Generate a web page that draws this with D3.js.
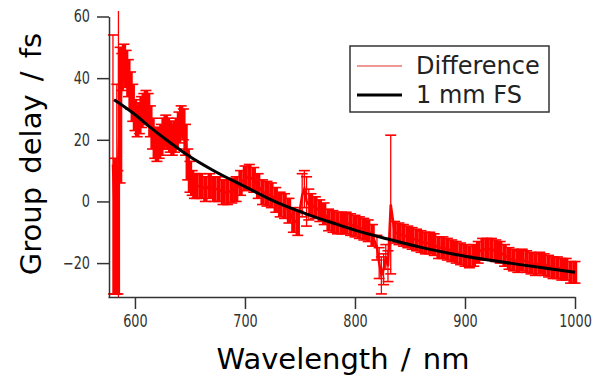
<!DOCTYPE html>
<html><head><meta charset="utf-8">
<script src="https://cdn.jsdelivr.net/npm/d3@7"></script>
<style>
html,body{margin:0;padding:0;background:#fff;}
svg{display:block;}
.tick text{font-family:"DejaVu Sans Condensed","DejaVu Sans",sans-serif;font-size:17px;fill:#333;}
</style>
</head><body>
<svg id="chart" width="594" height="383"></svg>
<script>
// Measured "Difference" data (nm, fs, error fs)
const diffWavelength = [580,582,583.5,584.5,585,586.5,588,590,592,594,596,598,600,602,604,606,608,610,612,614,616,618,620,622,624,626,628,630,632,634,636,638,640,642,644,646,648,650,652,654,656,660,664,668,672,676,680,684,688,692,696,700,704,708,712,716,720,724,728,732,736,740,744,748,752,754,756,758,760,764,768,772,776,780,784,788,792,796,800,804,808,812,816,820,822,824,826,828,830,832.5,836,840,844,848,852,856,860,864,868,872,876,880,884,888,892,896,900,904,908,912,916,920,924,928,932,936,940,944,948,952,956,960,964,968,972,976,980,984,988,992,996,1000];
const diffValue = [12,-8,4,-10,15,28,42,45,43,40,36,32,28,26,27,29,30,31,30,26,22,19,18,19,20,22,23,22,21,20,21,22,24,26,25,20,12,8,6,5,5,5,4,5,4,4,3,3,3.5,4,6,7.5,8,7,5,3,2.5,2,0.5,-1,-1.5,-3,-6,-7,2,4,0,-1,-1,-2,-3,-4,-6,-6.5,-7,-7,-7,-7.5,-8,-8.5,-9,-9.5,-11,-15,-20,-24,-22,-18,-21,-1,-10,-10.5,-11,-11.5,-12,-12.5,-13,-13.5,-13.5,-14,-15,-15,-15.5,-16,-16.5,-17,-17.5,-18,-17.5,-16.5,-15.5,-15.5,-15.5,-16,-16.5,-17.5,-18.5,-19,-19.5,-19,-19.5,-20,-20.5,-20,-20.5,-21,-21.5,-21.5,-22,-22,-23,-23];
const diffError = [42,22,34,20,48,22,6,6,6,6,6,6,5,5,5,5,5,5,5,5,5,5,5,5,5,5,5,5,5,5,5,5,5,5,5,5,5,5,4,4,4,4,4,4,4,4,4,4,4,4,4,4,4,4,4,4,4,4,4,4,4,4,4,4,7,6,8,5,3.5,3.5,3.5,3.5,3.5,3.5,3.5,3.5,3.5,3.5,3.5,3.5,3.5,3.5,3.5,4,5,6,5,4,5,22.5,3.5,3.5,3.5,3.5,3.5,3.5,3.5,3.5,3.5,3.5,3.5,3.5,3.5,3.5,3.5,3.5,3.5,3.5,3.5,3.5,3.5,3.5,3.5,3.5,3.5,3.5,3.5,3.5,3.5,3.5,3.5,3.5,3.5,3.5,3.5,3.5,3.5,3.5,3.5,3.5,3.5,3.5];
// "1 mm FS" curve
const fsWavelength = [581,600,612,630,648,670,700,730,760,780,800,830,860,890,920,950,980,1000];
const fsValue = [33,28.2,24.6,19.6,15,10.3,4.8,-0.5,-4.6,-7,-9.3,-12.2,-14.9,-17.1,-18.9,-20.5,-22,-23];
const xTicks = [600,700,800,900,1000];
const yTicks = [-20,0,20,40,60];
const legendLabels = ["Difference","1 mm FS"];

const svg = d3.select("#chart");
const x = d3.scaleLinear().domain([575.5,1000]).range([108,575]);
const y = d3.scaleLinear().domain([-31,60]).range([297,16.5]);

svg.append("defs").append("clipPath").attr("id","clip")
  .append("rect").attr("x",108).attr("y",11).attr("width",475).attr("height",286);

const diff = diffWavelength.map((w,i)=>({w, v:diffValue[i], e:diffError[i]}));
const g = svg.append("g").attr("clip-path","url(#clip)");
const red = "#ff0000";
const thin = d => d.e>30 || d.w===832.5 || (d.w>=820 && d.w<=830) || (d.w>=752 && d.w<=758);
// error bars
const eb = g.append("g").attr("stroke",red);
eb.selectAll("line.v").data(diff).join("line").attr("class","v").attr("stroke-width",d=>thin(d)?1.3:4.4)
  .attr("x1",d=>x(d.w)).attr("x2",d=>x(d.w)).attr("y1",d=>y(d.v-d.e)).attr("y2",d=>y(d.v+d.e));
eb.selectAll("line.t").data(diff).join("line").attr("class","t").attr("stroke-width",1.6)
  .attr("x1",d=>x(d.w)-5.5).attr("x2",d=>x(d.w)+5.5).attr("y1",d=>y(d.v+d.e)).attr("y2",d=>y(d.v+d.e));
eb.selectAll("line.b").data(diff).join("line").attr("class","b").attr("stroke-width",1.6)
  .attr("x1",d=>x(d.w)-5.5).attr("x2",d=>x(d.w)+5.5).attr("y1",d=>y(d.v-d.e)).attr("y2",d=>y(d.v-d.e));
g.append("path").datum(diff).attr("fill","none").attr("stroke",red).attr("stroke-width",2.5)
  .attr("d",d3.line().x(d=>x(d.w)).y(d=>y(d.v)));

// FS curve
const fs = fsWavelength.map((w,i)=>({w, v:fsValue[i]}));
g.append("path").datum(fs).attr("fill","none").attr("stroke","#000").attr("stroke-width",3)
  .attr("d",d3.line().curve(d3.curveMonotoneX).x(d=>x(d.w)).y(d=>y(d.v)));

// axes
const ax = svg.append("g").attr("transform","translate(0,297)")
  .call(d3.axisBottom(x).tickValues(xTicks).tickSize(12).tickSizeOuter(0).tickPadding(6).tickFormat(d3.format("d")));
const ay = svg.append("g").attr("transform","translate(109,0)")
  .call(d3.axisLeft(y).tickValues(yTicks).tickSize(12).tickSizeOuter(0).tickPadding(7).tickFormat(d=>d<0?"\u2212"+Math.abs(d):d));
[ax,ay].forEach(a=>{a.select(".domain").attr("stroke","#333").attr("stroke-width",1.5);
  a.selectAll(".tick line").attr("stroke","#333").attr("stroke-width",1.5);});
ax.selectAll(".tick text").attr("transform","scale(0.84,1)");
ay.selectAll(".tick text").attr("x",-19/0.84).attr("transform","scale(0.84,1)");

// titles
svg.append("text").attr("x",343).attr("y",369).attr("text-anchor","middle")
  .style("font-family","DejaVu Sans").style("font-size","29px").style("white-space","pre").style("word-spacing","3px").attr("fill","#000")
  .text("Wavelength / nm");
svg.append("text").attr("transform","translate(41,154) rotate(-90)").attr("text-anchor","middle")
  .style("font-family","DejaVu Sans").style("font-size","29px").style("white-space","pre").style("word-spacing","4px").attr("fill","#000")
  .text("Group delay / fs");

// legend
const lg = svg.append("g");
lg.append("rect").attr("x",350).attr("y",46).attr("width",199).attr("height",66)
  .attr("fill","#fff").attr("stroke","#333").attr("stroke-width",1.5);
const lgColors = ["#e03030","#000"], lgWidths=[1.2,3], lgY=[66,95];
legendLabels.forEach((t,i)=>{
  lg.append("line").attr("x1",357).attr("x2",402).attr("y1",lgY[i]).attr("y2",lgY[i])
    .attr("stroke",lgColors[i]).attr("stroke-width",lgWidths[i]);
  lg.append("text").attr("x",416).attr("y",lgY[i]+8).style("font-family","DejaVu Sans")
    .style("font-size","24px").attr("fill","#222").text(t);
});
</script>
</body></html>
